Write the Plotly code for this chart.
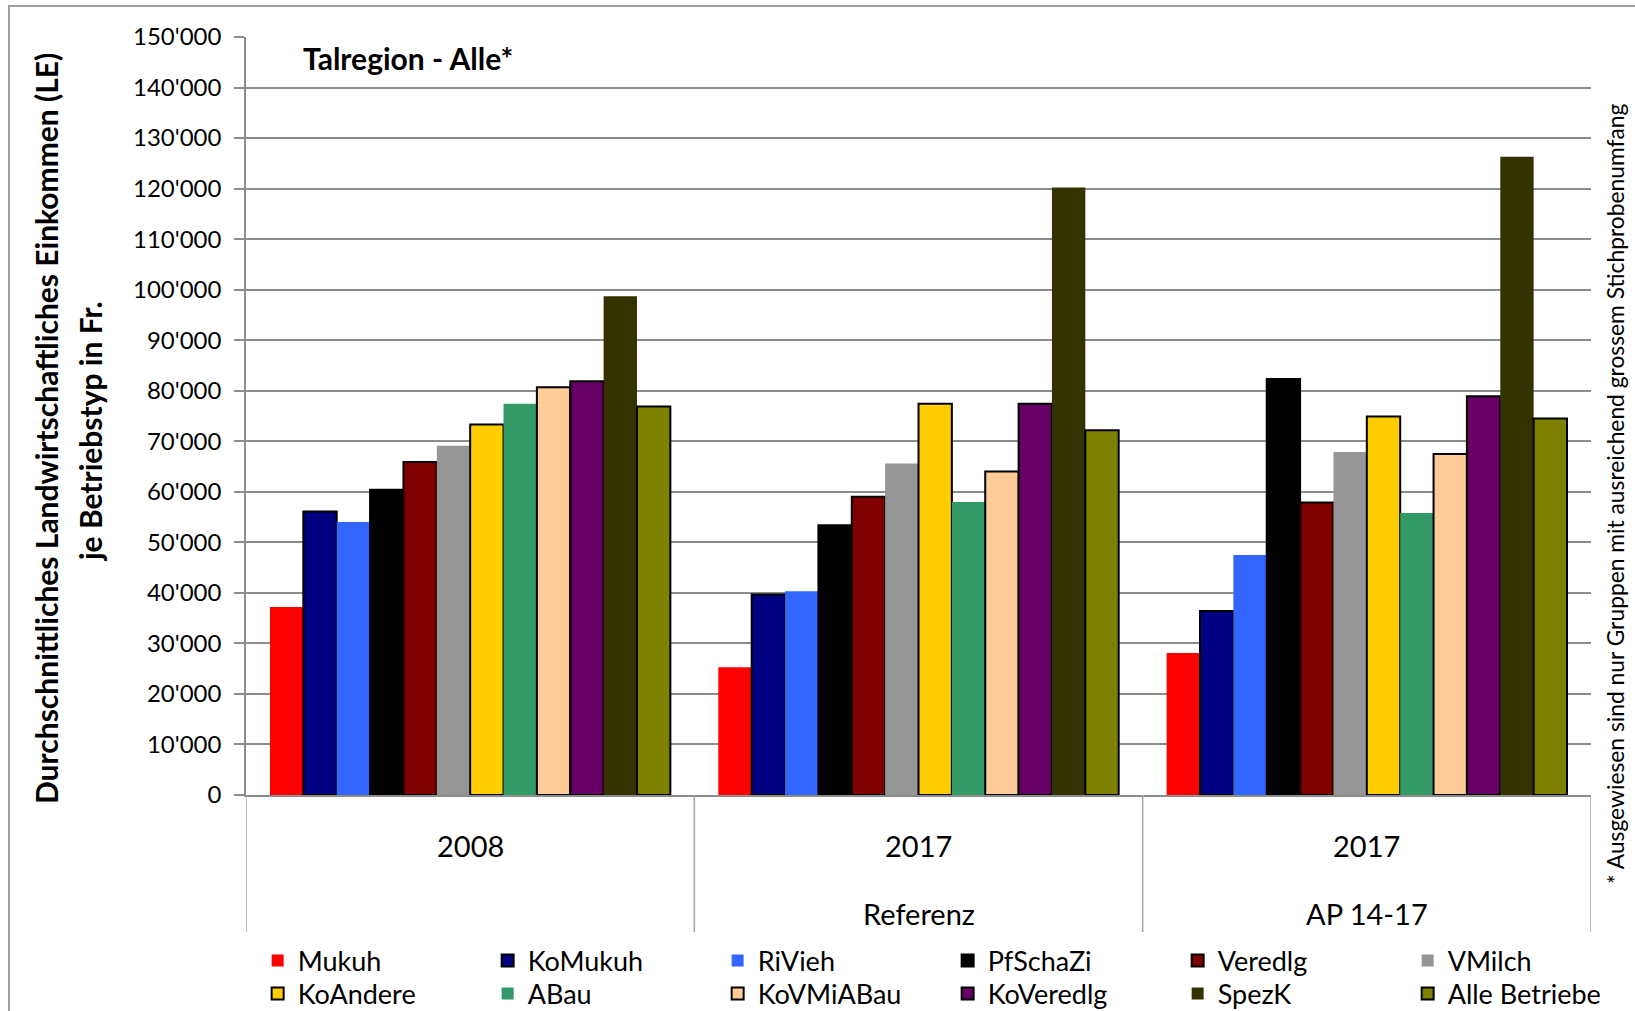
import plotly.graph_objects as go

# ---- data ----
categories = ["2008 ", "2017 Referenz", "2017 AP 14-17"]
cat_top = ["2008", "2017", "2017"]
cat_bottom = ["", "Referenz", "AP 14-17"]

series_names = ["Mukuh", "KoMukuh", "RiVieh", "PfSchaZi", "Veredlg", "VMilch",
                "KoAndere", "ABau", "KoVMiABau", "KoVeredlg", "SpezK", "Alle Betriebe"]

Mukuh = [37200, 25300, 28100]
KoMukuh = [56100, 39700, 36400]
RiVieh = [54000, 40300, 47500]
PfSchaZi = [60400, 53400, 82300]
Veredlg = [65900, 59000, 57900]
VMilch = [69100, 65600, 67900]
KoAndere = [73300, 77400, 74900]
ABau = [77400, 58000, 55800]
KoVMiABau = [80700, 64000, 67500]
KoVeredlg = [81900, 77400, 78900]
SpezK = [98700, 120200, 126300]
AlleBetriebe = [76900, 72200, 74500]

values = [Mukuh, KoMukuh, RiVieh, PfSchaZi, Veredlg, VMilch,
          KoAndere, ABau, KoVMiABau, KoVeredlg, SpezK, AlleBetriebe]

colors = ["#FF0000", "#000080", "#3366FF", "#000000", "#800000", "#969696",
          "#FFCC00", "#339966", "#FFCC99", "#660066", "#333300", "#808000"]
outlined = [False, True, False, True, True, False,
            True, False, True, True, False, True]

y_ticks = list(range(0, 150001, 10000))

title_text = "Talregion - Alle*"
y_title_1 = "Durchschnittliches Landwirtschaftliches Einkommen (LE)"
y_title_2 = "je Betriebstyp in Fr."
note_text = "* Ausgewiesen sind nur Gruppen mit ausreichend grossem Stichprobenumfang"

FONT = "Lato, Carlito, Noto Sans, sans-serif"
GRID = "#8c8c8c"

# ---- geometry (pixels) ----
W, H = 1635, 1011
L, R, T, B = 246, 1591, 37, 795
PW, PH = R - L, B - T


def px_x(px):
    return (px - L) / PW


def px_y(py):
    return 1 - (py - T) / PH


fig = go.Figure()
for i, (name, vals, col, ol) in enumerate(zip(series_names, values, colors, outlined)):
    fig.add_trace(go.Bar(
        x=categories, y=vals, name=name,
        marker=dict(color=col,
                    line=dict(color="#000000", width=2 if ol else 0)),
        legend="legend" if i < 6 else "legend2",
    ))

legend_common = dict(
    orientation="h", xanchor="left", yanchor="middle",
    x=-0.001, entrywidth=172, entrywidthmode="pixels", indentation=13,
    font=dict(family=FONT, size=27, color="#000000"),
    bgcolor="rgba(0,0,0,0)", traceorder="normal", tracegroupgap=0,
)

fig.update_layout(
    width=W, height=H,
    margin=dict(l=L, r=W - R, t=T, b=H - B, autoexpand=False),
    paper_bgcolor="#FFFFFF", plot_bgcolor="#FFFFFF",
    barmode="group", bargap=0.107, bargroupgap=0,
    separators=".'",
    font=dict(family=FONT, color="#000000"),
    showlegend=True,
    legend=dict(legend_common, y=px_y(961)),
    legend2=dict(legend_common, y=px_y(994)),
    xaxis=dict(
        type="category", categoryorder="array", categoryarray=categories,
        range=[-0.5, len(categories) - 0.5],
        showticklabels=False, ticks="", showgrid=False,
        showline=True, linecolor=GRID, linewidth=1.5,
    ),
    yaxis=dict(
        range=[0, 150000], tickvals=y_ticks, tickformat=",d",
        showgrid=True, gridcolor=GRID, gridwidth=1.5,
        showline=True, linecolor=GRID, linewidth=1.5,
        ticks="outside", ticklen=10, tickcolor=GRID, tickwidth=1.5,
        ticklabelstandoff=8,
        tickfont=dict(family=FONT, size=24, color="#000000"),
        zeroline=False,
    ),
)

shapes = []
# category separators below the axis
for i in range(len(categories) + 1):
    shapes.append(dict(type="line", xref="x", yref="paper",
                       x0=i - 0.5, x1=i - 0.5, y0=0, y1=px_y(932),
                       line=dict(color="#a6a6a6", width=1.5)))
# chart frame
shapes.append(dict(type="rect", xref="paper", yref="paper",
                   x0=px_x(9), x1=px_x(1645), y0=px_y(6), y1=px_y(1025),
                   line=dict(color="#a0a0a0", width=2), layer="below"))
fig.update_layout(shapes=shapes)

annotations = []
for i in range(len(categories)):
    annotations.append(dict(x=i, xref="x", y=px_y(846), yref="paper",
                            text=cat_top[i], showarrow=False,
                            font=dict(family=FONT, size=29, color="#000000"),
                            xanchor="center", yanchor="middle"))
    if cat_bottom[i]:
        annotations.append(dict(x=i, xref="x", y=px_y(913), yref="paper",
                                text=cat_bottom[i], showarrow=False,
                                font=dict(family=FONT, size=29, color="#000000"),
                                xanchor="center", yanchor="middle"))
annotations.append(dict(x=px_x(301), y=px_y(58), xref="paper", yref="paper",
                        text="<b>" + title_text + "</b>", showarrow=False,
                        xanchor="left", yanchor="middle",
                        font=dict(family=FONT, size=30, color="#000000")))
annotations.append(dict(x=px_x(46), y=px_y(429), xref="paper", yref="paper",
                        text="<b>" + y_title_1 + "</b>", showarrow=False,
                        textangle=-90, xanchor="center", yanchor="middle",
                        font=dict(family=FONT, size=30, color="#000000")))
annotations.append(dict(x=px_x(90), y=px_y(432), xref="paper", yref="paper",
                        text="<b>" + y_title_2 + "</b>", showarrow=False,
                        textangle=-90, xanchor="center", yanchor="middle",
                        font=dict(family=FONT, size=30, color="#000000")))
annotations.append(dict(x=px_x(1615), y=px_y(494), xref="paper", yref="paper",
                        text=note_text, showarrow=False,
                        textangle=-90, xanchor="center", yanchor="middle",
                        font=dict(family=FONT, size=22.8, color="#000000")))
fig.update_layout(annotations=annotations)

fig.write_html("out.html", config={"displayModeBar": False},
               post_script="document.body.style.margin='0px';")
